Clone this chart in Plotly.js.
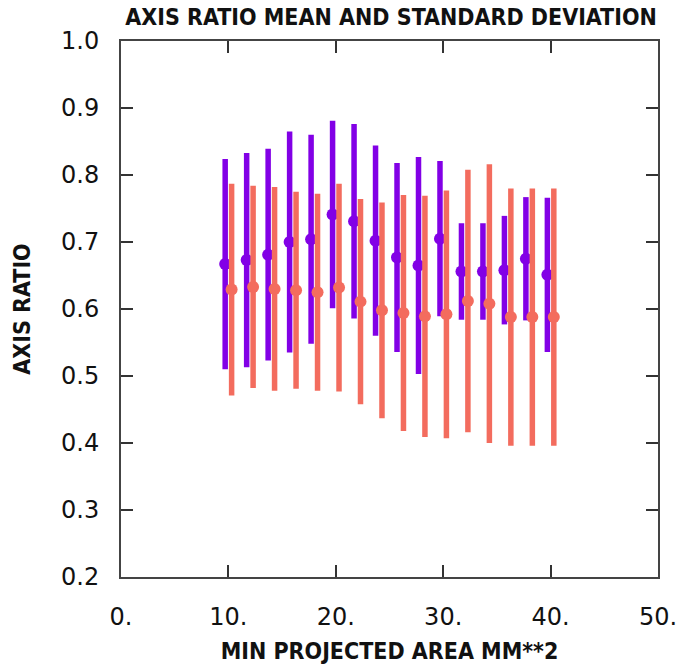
<!DOCTYPE html>
<html>
<head>
<meta charset="utf-8">
<script src="https://cdn.plot.ly/plotly-3.0.1.min.js"></script>
<style>html,body{margin:0;padding:0;background:#fff;}#chart{width:680px;height:668px;}</style>
</head>
<body>
<div id="chart"></div>
<script>
// Series 1 (purple): bin centres slightly left of each even area value
var areaA = [9.7, 11.7, 13.7, 15.7, 17.7, 19.7, 21.7, 23.7, 25.7, 27.7, 29.7, 31.7, 33.7, 35.7, 37.7, 39.7];
var meanA = [0.667, 0.673, 0.681, 0.700, 0.704, 0.741, 0.731, 0.702, 0.677, 0.665, 0.705, 0.656, 0.656, 0.658, 0.675, 0.651];
var sdA   = [0.157, 0.160, 0.158, 0.165, 0.156, 0.140, 0.145, 0.142, 0.141, 0.162, 0.116, 0.072, 0.072, 0.081, 0.092, 0.115];

// Series 2 (salmon): bin centres slightly right
var areaB = [10.3, 12.3, 14.3, 16.3, 18.3, 20.3, 22.3, 24.3, 26.3, 28.3, 30.3, 32.3, 34.3, 36.3, 38.3, 40.3];
var meanB = [0.629, 0.633, 0.630, 0.628, 0.625, 0.632, 0.611, 0.598, 0.594, 0.589, 0.592, 0.612, 0.608, 0.588, 0.588, 0.588];
var sdB   = [0.158, 0.151, 0.152, 0.147, 0.147, 0.155, 0.153, 0.161, 0.176, 0.180, 0.185, 0.196, 0.208, 0.192, 0.192, 0.192];

var xTickVals = [0, 10, 20, 30, 40, 50];
var xTickText = ["0.", "10.", "20.", "30.", "40.", "50."];
var yTickVals = [0.2, 0.3, 0.4, 0.5, 0.6, 0.7, 0.8, 0.9, 1.0];
var yTickText = ["0.2", "0.3", "0.4", "0.5", "0.6", "0.7", "0.8", "0.9", "1.0"];

var purple = "#8200e6";
var salmon = "#f36c5e";

var traces = [
  {
    x: areaA, y: meanA, type: "scatter", mode: "markers",
    marker: {color: purple, size: 12},
    error_y: {type: "data", array: sdA, visible: true, color: purple, thickness: 5.5, width: 0},
    hoverinfo: "x+y"
  },
  {
    x: areaB, y: meanB, type: "scatter", mode: "markers",
    marker: {color: salmon, size: 12},
    error_y: {type: "data", array: sdB, visible: true, color: salmon, thickness: 5.5, width: 0},
    hoverinfo: "x+y"
  }
];

var tfont = {family: "DejaVu Sans Condensed, Liberation Sans Narrow, sans-serif", size: 23, weight: "bold", color: "#111"};
var kfont = {family: "DejaVu Sans, sans-serif", size: 24, color: "#111"};

var layout = {
  width: 680, height: 668,
  margin: {l: 121, r: 22, t: 41, b: 91},
  paper_bgcolor: "#fff", plot_bgcolor: "#fff",
  showlegend: false,
  title: {text: "AXIS RATIO MEAN AND STANDARD DEVIATION", font: tfont, x: 0.575, xanchor: "center", y: 0.986, yanchor: "top"},
  xaxis: {
    range: [0, 50], tickmode: "array", tickvals: xTickVals, ticktext: xTickText,
    showgrid: false, zeroline: false, showline: true, linecolor: "#444", linewidth: 2,
    mirror: "ticks", ticks: "inside", ticklen: 12, tickwidth: 2, tickcolor: "#333",
    tickfont: kfont,
    ticklabelstandoff: 17,
    title: {text: "MIN PROJECTED AREA MM**2", font: tfont, standoff: 13}
  },
  yaxis: {
    range: [0.2, 1.0], tickmode: "array", tickvals: yTickVals, ticktext: yTickText,
    showgrid: false, zeroline: false, showline: true, linecolor: "#444", linewidth: 2,
    mirror: "ticks", ticks: "inside", ticklen: 12, tickwidth: 2, tickcolor: "#333",
    tickfont: kfont,
    ticklabelstandoff: 15,
    title: {text: "AXIS RATIO", font: tfont, standoff: 24}
  }
};

Plotly.newPlot("chart", traces, layout, {displayModeBar: false, staticPlot: true});
</script>
</body>
</html>
